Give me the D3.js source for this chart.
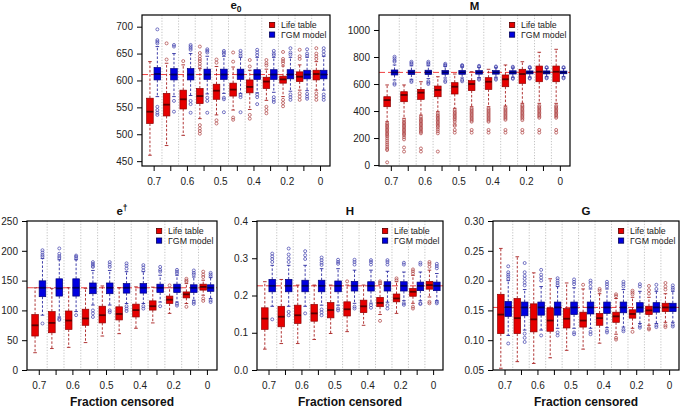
<!DOCTYPE html>
<html><head><meta charset="utf-8">
<script src="https://cdn.jsdelivr.net/npm/d3@7/dist/d3.min.js"></script>
<style>
body{margin:0;background:#fff;}
svg{display:block;font-family:"Liberation Sans",Arial,sans-serif;}
</style></head><body>
<svg id="chart" width="685" height="407"></svg>
<script>
// ---------- shared categories ----------
const groups = ["0.7","0.65","0.6","0.55","0.5","0.45","0.4","0.3","0.2","0.1","0"];
const tickLabels = ["0.7","","0.6","","0.5","","0.4","","0.2","","0"];
const seriesNames = ["Life table","\u0393GM model"];
const xTitle = "Fraction censored";

// ---------- e0 ---------- [lower whisker, Q1, median, Q3, upper whisker]
const e0Life = [[461,520,542,567,635],[479,534,555,576,632],[498,547,565,582,629],[529,557,571,585,622],[536,565,581,593,626],[545,571,583,595,625],[546,577,588,601,619],[563,585,598,606,621],[570,595,602,608,627],[582,598,607,616,629],[582,601,612,619,635]];
const e0LifeOut = [[],[639,669],[636],[663,651,645,640,636,631,626,517,511,506,501],[639,633,526,520],[652,635,531,527],[638,626,536,529],[638,632,628,551,545,539],[653,640,636,632,564,558,552],[657,645,640,576,570,564],[660,650,645,640,576,570,564]];
const e0Gm = [[570,601,612,624,663],[570,601,611,622,650],[572,601,611,622,650],[575,602,611,621,645],[576,602,611,621,645],[576,602,611,621,643],[577,602,611,620,643],[578,602,611,620,643],[580,603,611,620,643],[581,603,611,619,643],[582,603,611,619,645]];
const e0GmOut = [[695,675,672,669,551,545,540,536],[666,663,562,542],[666,663,660,657,562,556,540],[658,655,652,568,562,540],[655,652,649,568,565,541],[655,650,646,573,569,541],[657,652,647,574,569,556],[655,650,647,569,564,560],[660,652,648,574,569,564],[658,650,646,575,570,566],[660,654,648,574,569,564]];
const e0True = 611;
const e0Ticks = [450,500,550,600,650,700];

// ---------- M ----------
const mLife = [[321,432,481,506,593],[346,469,519,543,593],[370,486,536,560,617],[395,506,556,585,654],[420,526,580,610,674],[432,551,600,625,691],[432,560,617,647,709],[437,580,635,667,741],[457,605,674,709,765],[457,617,691,733,835],[457,617,691,733,857]];
const mLifeOut = [[309,300,290,280,270,260,250,240,230,220,210,195,180,165,150,135,120,111,20],[333,320,310,300,290,280,270,260,250,240,230,220,205,190,130,100],[358,345,335,325,315,305,295,285,275,265,255,245,235,123,100],[383,370,360,350,340,330,320,310,300,290,280,265,250,235,100],[407,395,385,375,365,355,345,335,320,300,290,260,240],[420,410,400,390,380,370,360,350,340,330,321,260,240],[420,410,400,390,380,370,360,350,340,330,321,260,240],[425,415,405,395,385,375,365,355,345,335,260,240],[444,435,425,415,405,395,385,375,365,355,345,333,260,240],[440,430,420,410,400,390,380,370,360,350,260,240],[440,430,420,410,400,390,380,370,360,350,260,240]];
const mGm = [[630,667,686,704,741],[635,670,686,702,735],[640,670,686,702,735],[645,672,686,700,730],[645,672,686,700,725],[648,673,686,699,722],[650,673,686,699,720],[650,674,686,698,718],[652,675,686,697,716],[655,675,686,697,715],[655,676,686,696,715]];
const mGmOut = [[802,790,775,765,605,595],[765,755,745,625,615],[765,755,745,620,610,600],[750,742,735,625,615],[740,735,730,630,620],[735,728,640,632],[730,725,640,632],[728,722,645,638],[726,720,645,640],[725,720,648,642],[725,720,648,642]];
const mTrue = 686;
const mTicks = [0,200,400,600,800,1000];

// ---------- e-dagger ----------
const edLife = [[29,57,75,93,138],[36,62.5,79,98,137],[38,68,83,99,138],[46,75,86.5,102,137],[57,79,92,107,141],[61,84,94,106,138],[70,89,100.5,110.5,139.5],[79,100.5,107,116,139],[95,111.6,118,124,138],[111.6,121,127,131,145],[125.5,134,139.5,144,150.7]];
const edLifeOut = [[],[],[],[],[],[],[],[],[142],[153,150,148,106],[165,160,156,120,116]];
const edGm = [[92,123,138,149.6,187],[89,124,137,153,185],[98,124,138,153,185],[109,128,138,146,167],[109,128,138,146,167],[111.6,129,138,145,165],[111.6,129,138,145,165],[114,130,138,144,159],[114,130,138,144,159],[117,130,138,143,156],[120,132,138,143,155]];
const edGmOut = [[201,197,193,190,78],[204,195,191,188,86,84],[192,190,187,92],[181,178,175,173,100,95,89],[181,177,173,100,97],[179,175,170,107,103,99],[176,172,167,107,103],[173,168,165,107],[168,165,162,111,108],[167,163,160,114,111],[163,160,157,117,114]];
const edTrue = 138;
const edTicks = [0,50,100,150,200,250];

// ---------- H ----------
const hLife = [[0.056,0.109,0.138,0.167,0.237],[0.071,0.116,0.143,0.171,0.243],[0.071,0.125,0.147,0.174,0.228],[0.082,0.131,0.152,0.176,0.228],[0.098,0.140,0.161,0.181,0.228],[0.103,0.145,0.163,0.183,0.228],[0.120,0.154,0.171,0.1875,0.228],[0.149,0.170,0.180,0.195,0.230],[0.152,0.183,0.192,0.204,0.237],[0.179,0.198,0.210,0.219,0.254],[0.196,0.217,0.228,0.238,0.268]];
const hLifeOut = [[],[],[],[],[],[0.238],[],[0.238,0.234,0.132],[0.246,0.241],[0.270,0.265,0.259,0.170,0.165],[0.290,0.285,0.277,0.183,0.179]];
const hGm = [[0.171,0.210,0.226,0.243,0.281],[0.171,0.210,0.226,0.243,0.281],[0.171,0.210,0.226,0.241,0.281],[0.174,0.210,0.226,0.241,0.272],[0.174,0.210,0.226,0.239,0.272],[0.179,0.212,0.226,0.238,0.268],[0.1795,0.212,0.226,0.237,0.268],[0.182,0.212,0.226,0.237,0.265],[0.186,0.212,0.226,0.237,0.263],[0.186,0.213,0.226,0.236,0.263],[0.186,0.213,0.226,0.236,0.259]];
const hGmOut = [[0.3125,0.305,0.298,0.290,0.136],[0.326,0.310,0.300,0.290,0.156,0.147],[0.319,0.308,0.298,0.152],[0.302,0.295,0.288,0.282,0.1625,0.155,0.147],[0.296,0.290,0.285,0.165,0.160],[0.296,0.290,0.283,0.170,0.165],[0.295,0.290,0.283,0.174,0.167],[0.295,0.290,0.283,0.174,0.165],[0.288,0.283,0.179,0.175],[0.288,0.283,0.179,0.177],[0.285,0.279,0.273,0.183,0.179]];
const hTrue = 0.226;
const hTicks = [0.0,0.1,0.2,0.3,0.4];

// ---------- G ----------
const gLife = [[0.053,0.111,0.143,0.177,0.254],[0.064,0.111,0.137,0.170,0.240],[0.061,0.114,0.135,0.161,0.213],[0.0705,0.115,0.133,0.154,0.203],[0.083,0.1205,0.136,0.153,0.196],[0.085,0.122,0.133,0.147,0.186],[0.095,0.125,0.137,0.145,0.178],[0.110,0.130,0.140,0.147,0.170],[0.120,0.137,0.144,0.151,0.172],[0.125,0.143,0.150,0.157,0.172],[0.130,0.148,0.155,0.162,0.178]];
const gLifeOut = [[],[],[],[],[],[0.193],[0.186,0.183],[0.177,0.174,0.104,0.101],[0.183,0.180,0.177,0.114],[0.191,0.184,0.178,0.120,0.118],[0.196,0.190,0.185,0.125,0.122]];
const gGm = [[0.108,0.140,0.1555,0.165,0.200],[0.117,0.141,0.155,0.164,0.185],[0.117,0.142,0.155,0.164,0.190],[0.120,0.142,0.155,0.164,0.190],[0.120,0.143,0.155,0.164,0.188],[0.120,0.144,0.155,0.164,0.186],[0.121,0.145,0.155,0.164,0.186],[0.122,0.146,0.155,0.164,0.185],[0.128,0.147,0.155,0.163,0.182],[0.128,0.147,0.155,0.163,0.182],[0.130,0.148,0.155,0.162,0.182]];
const gGmOut = [[0.224,0.214,0.210,0.207,0.203,0.0945],[0.2295,0.214,0.208,0.203,0.197,0.192,0.111,0.104,0.097],[0.218,0.210,0.205,0.200,0.108],[0.204,0.200,0.196,0.192,0.113,0.108],[0.202,0.198,0.194,0.113,0.110],[0.200,0.196,0.190,0.114,0.110],[0.198,0.194,0.190,0.116,0.113],[0.198,0.194,0.190,0.118,0.115],[0.194,0.190,0.124,0.121],[0.193,0.186,0.125,0.122],[0.192,0.188,0.185,0.126,0.123]];
const gTrue = 0.155;
const gTicks = [0.05,0.10,0.15,0.20,0.25,0.30];

// ---------- drawing ----------
const svg = d3.select("#chart");
const colors = {
  life:{fill:"#e60000",stroke:"#8f0000",whisk:"#a82020",out:"#b04848",med:"#5a0000"},
  gm:{fill:"#0000e0",stroke:"#00007a",whisk:"#2a2aa0",out:"#4848b0",med:"#00005a"}
};

function panel(cfg){
  const g = svg.append("g");
  const x = d3.scaleLinear().domain([0.3,11.6]).range([cfg.x0,cfg.x1]);
  const y = d3.scaleLinear().domain(cfg.ydom).range([cfg.y1,cfg.y0]);
  const clipId = "clip"+cfg.id;
  svg.append("clipPath").attr("id",clipId).append("rect")
     .attr("x",cfg.x0).attr("y",cfg.y0).attr("width",cfg.x1-cfg.x0).attr("height",cfg.y1-cfg.y0);
  const inner = g.append("g").attr("clip-path","url(#"+clipId+")");
  inner.selectAll("line.sep").data(d3.range(1,groups.length)).join("line")
    .attr("x1",d=>x(d+0.5)).attr("x2",d=>x(d+0.5))
    .attr("y1",cfg.y0).attr("y2",cfg.y1)
    .attr("stroke","#b4b4b4").attr("stroke-width",0.8).attr("stroke-dasharray","1.2,1.6");
  inner.append("line").attr("x1",cfg.x0).attr("x2",cfg.x1)
    .attr("y1",y(cfg.truth)).attr("y2",y(cfg.truth))
    .attr("stroke","#f04040").attr("stroke-width",1).attr("stroke-dasharray","6,3");
  const bw = 6.6, off = 3.7;
  const series = [
    {stats:cfg.life,outs:cfg.lifeOut,c:colors.life,dx:-off},
    {stats:cfg.gm,outs:cfg.gmOut,c:colors.gm,dx:off}
  ];
  series.forEach(s=>{
    const sg = inner.append("g");
    s.stats.forEach((st,i)=>{
      const cx = x(i+1)+s.dx;
      const [lo,q1,md,q3,hi] = st;
      sg.append("line").attr("x1",cx).attr("x2",cx).attr("y1",y(q3)).attr("y2",y(hi))
        .attr("stroke",s.c.whisk).attr("stroke-width",0.9).attr("stroke-dasharray","2.5,1.8");
      sg.append("line").attr("x1",cx).attr("x2",cx).attr("y1",y(q1)).attr("y2",y(lo))
        .attr("stroke",s.c.whisk).attr("stroke-width",0.9).attr("stroke-dasharray","2.5,1.8");
      [lo,hi].forEach(v=>sg.append("line").attr("x1",cx-1.8).attr("x2",cx+1.8).attr("y1",y(v)).attr("y2",y(v))
        .attr("stroke",s.c.whisk).attr("stroke-width",0.9));
      sg.append("rect").attr("x",cx-bw/2).attr("width",bw).attr("y",y(q3)).attr("height",y(q1)-y(q3))
        .attr("fill",s.c.fill).attr("stroke",s.c.stroke).attr("stroke-width",0.7);
      sg.append("line").attr("x1",cx-bw/2).attr("x2",cx+bw/2).attr("y1",y(md)).attr("y2",y(md))
        .attr("stroke",s.c.med).attr("stroke-width",1.8);
      sg.selectAll(null).data(s.outs[i]).join("circle")
        .attr("cx",cx).attr("cy",d=>y(d)).attr("r",1.5)
        .attr("fill","none").attr("stroke",s.c.out).attr("stroke-width",0.75);
    });
  });
  g.append("rect").attr("x",cfg.x0).attr("y",cfg.y0).attr("width",cfg.x1-cfg.x0).attr("height",cfg.y1-cfg.y0)
    .attr("fill","none").attr("stroke","#000").attr("stroke-width",1.2);
  const ya = g.append("g").attr("transform","translate("+cfg.x0+",0)")
    .call(d3.axisLeft(y).tickValues(cfg.ticks).tickFormat(cfg.fmt).tickSize(5).tickPadding(4));
  ya.select(".domain").remove();
  ya.selectAll("text").attr("font-size",10).attr("fill","#222").attr("font-family","Liberation Sans, Arial, sans-serif");
  ya.selectAll("line").attr("stroke","#000");
  const xa = g.append("g").attr("transform","translate(0,"+cfg.y1+")")
    .call(d3.axisBottom(x).tickValues(d3.range(1,groups.length+1)).tickFormat(d=>tickLabels[d-1]).tickSize(5).tickPadding(7));
  xa.select(".domain").remove();
  xa.selectAll("text").attr("font-size",10).attr("fill","#222").attr("font-family","Liberation Sans, Arial, sans-serif");
  xa.selectAll("line").attr("stroke","#000");
  const cxm = (cfg.x0+cfg.x1)/2;
  const t = g.append("text").attr("x",cxm).attr("y",cfg.titleY).attr("text-anchor","middle")
    .attr("font-size",11.5).attr("font-weight","bold").attr("fill","#111");
  t.append("tspan").text(cfg.title);
  if(cfg.sub) t.append("tspan").attr("font-size",8.5).attr("dy",3).text(cfg.sub);
  if(cfg.sup) t.append("tspan").attr("font-size",8.5).attr("dy",-4.5).text(cfg.sup);
  if(cfg.xlab){
    g.append("text").attr("x",cxm).attr("y",cfg.y1+35.5).attr("text-anchor","middle")
      .attr("font-size",12).attr("font-weight","bold").attr("fill","#111").text(xTitle);
  }
  const lg = g.append("g");
  seriesNames.forEach((nm,k)=>{
    const c = k===0?colors.life:colors.gm;
    const ly = cfg.y0+10+k*9.6;
    lg.append("rect").attr("x",cfg.x1-60.5).attr("y",ly-2.6).attr("width",5.2).attr("height",5.2)
      .attr("fill",c.fill).attr("stroke",c.med).attr("stroke-width",0.8);
    lg.append("text").attr("x",cfg.x1-49).attr("y",ly+3.2).attr("font-size",8.8).attr("fill","#222").text(nm);
  });
}

panel({id:"e0",x0:142,x1:330,y0:15,y1:166,ydom:[441,721.7],ticks:e0Ticks,fmt:d3.format("d"),
  life:e0Life,lifeOut:e0LifeOut,gm:e0Gm,gmOut:e0GmOut,truth:e0True,title:"e",sub:"0",titleY:9,xlab:false});
panel({id:"M",x0:379,x1:570,y0:15,y1:166,ydom:[-7,1111],ticks:mTicks,fmt:d3.format("d"),
  life:mLife,lifeOut:mLifeOut,gm:mGm,gmOut:mGmOut,truth:mTrue,title:"M",titleY:9.5,xlab:false});
panel({id:"ed",x0:27,x1:217,y0:221,y1:370,ydom:[0,250],ticks:edTicks,fmt:d3.format("d"),
  life:edLife,lifeOut:edLifeOut,gm:edGm,gmOut:edGmOut,truth:edTrue,title:"e",sup:"\u2020",titleY:215,xlab:true});
panel({id:"H",x0:257,x1:443,y0:221,y1:370,ydom:[0,0.4],ticks:hTicks,fmt:d3.format(".1f"),
  life:hLife,lifeOut:hLifeOut,gm:hGm,gmOut:hGmOut,truth:hTrue,title:"H",titleY:214.5,xlab:true});
panel({id:"G",x0:493,x1:679,y0:221,y1:370,ydom:[0.05,0.30],ticks:gTicks,fmt:d3.format(".2f"),
  life:gLife,lifeOut:gLifeOut,gm:gGm,gmOut:gGmOut,truth:gTrue,title:"G",titleY:214.5,xlab:true});
</script>
</body></html>
